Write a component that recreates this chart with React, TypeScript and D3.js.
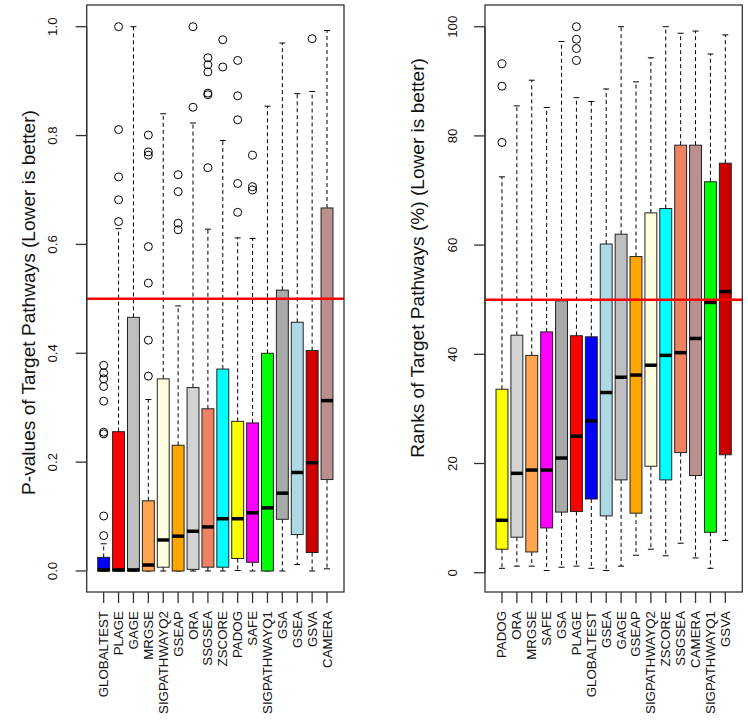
import React from "react";
import * as d3 from "d3";

// ---------- Left panel: P-values ----------
const pvMethods = ["GLOBALTEST","PLAGE","GAGE","MRGSE","SIGPATHWAYQ2","GSEAP","ORA","SSGSEA","ZSCORE","PADOG","SAFE","SIGPATHWAYQ1","GSA","GSEA","GSVA","CAMERA"];
const pvLow = [0,0,0,0,0,0,0,0,0,0.001,0,0,0,0.012,0,0.004];
const pvQ1 = [0,0,0,0,0.007,0,0.003,0.007,0.007,0.023,0.016,0,0.095,0.067,0.034,0.168];
const pvMed = [0.002,0.002,0.002,0.011,0.057,0.064,0.073,0.081,0.096,0.096,0.107,0.116,0.143,0.181,0.199,0.313];
const pvQ3 = [0.025,0.256,0.466,0.129,0.353,0.231,0.337,0.298,0.371,0.275,0.272,0.400,0.516,0.457,0.405,0.667];
const pvHigh = [0.05,0.629,1.0,0.315,0.840,0.487,0.823,0.628,0.791,0.612,0.611,0.854,0.970,0.877,0.881,0.993];
const pvOut = [
  [0.378,0.364,0.353,0.339,0.312,0.255,0.252,0.101,0.065],
  [1.0,0.811,0.724,0.682,0.642],
  [],
  [0.801,0.770,0.764,0.596,0.529,0.424,0.358],
  [],
  [0.728,0.697,0.639,0.627],
  [1.0,0.852],
  [0.943,0.930,0.917,0.878,0.875,0.741],
  [0.976,0.926],
  [0.938,0.873,0.829,0.712,0.659],
  [0.764,0.706,0.700],
  [],
  [],
  [],
  [0.978],
  []
];
const pvTicks = [0, 0.2, 0.4, 0.6, 0.8, 1.0];
const pvTickLabels = ["0.0","0.2","0.4","0.6","0.8","1.0"];

// ---------- Right panel: Ranks ----------
const rkMethods = ["PADOG","ORA","MRGSE","SAFE","GSA","PLAGE","GLOBALTEST","GSEA","GAGE","GSEAP","SIGPATHWAYQ2","ZSCORE","SSGSEA","CAMERA","SIGPATHWAYQ1","GSVA"];
const rkLow = [0.8,1.2,1.2,0.4,1.0,1.2,0.8,0.4,1.2,3.2,4.3,3.1,5.4,2.7,0.8,5.9];
const rkQ1 = [4.3,6.5,3.8,8.2,11.1,11.2,13.5,10.4,17.0,10.9,19.5,17.0,22.0,17.8,7.4,21.6];
const rkMed = [9.6,18.2,18.8,18.8,21.0,25.0,27.8,33.0,35.8,36.2,38.0,39.8,40.3,42.9,49.5,51.5];
const rkQ3 = [33.6,43.5,39.8,44.1,49.8,43.4,43.2,60.2,62.0,57.9,65.9,66.7,78.3,78.3,71.6,75.0];
const rkHigh = [72.5,85.5,90.2,85.2,97.3,87.0,86.3,88.6,100,89.9,94.3,100,98.8,99.2,95.0,98.5];
const rkOut = [
  [93.2,89.1,78.8],[],[],[],[],
  [100,97.7,96.0,93.8],
  [],[],[],[],[],[],[],[],[],[]
];
const rkTicks = [0,20,40,60,80,100];
const rkTickLabels = ["0","20","40","60","80","100"];

const methodColors: Record<string,string> = {
  GLOBALTEST: "#0000FF",
  PLAGE: "#FF0000",
  GAGE: "#BEBEBE",
  MRGSE: "#FFA54F",
  SIGPATHWAYQ2: "#FFFFE0",
  GSEAP: "#FFA500",
  ORA: "#D3D3D3",
  SSGSEA: "#EE8262",
  ZSCORE: "#00FFFF",
  PADOG: "#FFFF00",
  SAFE: "#FF00FF",
  SIGPATHWAYQ1: "#00FF00",
  GSA: "#A9A9A9",
  GSEA: "#ADD8E6",
  GSVA: "#CD0000",
  CAMERA: "#BC8F8F",
};

const FONT = "'Liberation Sans', Arial, Helvetica, sans-serif";

type PanelProps = {
  methods: string[]; low: number[]; q1: number[]; med: number[]; q3: number[]; high: number[]; out: number[][];
  ticks: number[]; tickLabels: string[];
  left: number; right: number; top: number; bottom: number;
  y0: number; y0px: number; y1: number; y1px: number;
  refLine: number; title: string; titleX: number; titleY: number; tickLabelX: number;
};

function Panel(p: PanelProps) {
  const n = p.methods.length;
  const x = d3.scaleLinear().domain([0.5 - 0.04 * n, n + 0.5 + 0.04 * n]).range([p.left, p.right]);
  const y = d3.scaleLinear().domain([p.y0, p.y1]).range([p.y0px, p.y1px]);
  const bw = (x(1) - x(0)) * 0.8;
  const staple = bw * 0.25;
  const tickLen = 11;
  return (
    <g>
      {p.methods.map((m, i) => {
        const cx = x(i + 1);
        return (
          <g key={m}>
            <line x1={cx} x2={cx} y1={y(p.q3[i])} y2={y(p.high[i])} stroke="#000" strokeWidth={1} strokeDasharray="4,3" />
            <line x1={cx} x2={cx} y1={y(p.q1[i])} y2={y(p.low[i])} stroke="#000" strokeWidth={1} strokeDasharray="4,3" />
            <line x1={cx - staple} x2={cx + staple} y1={y(p.high[i])} y2={y(p.high[i])} stroke="#000" strokeWidth={1} />
            <line x1={cx - staple} x2={cx + staple} y1={y(p.low[i])} y2={y(p.low[i])} stroke="#000" strokeWidth={1} />
            <rect x={cx - bw / 2} width={bw} y={y(p.q3[i])} height={Math.max(0, y(p.q1[i]) - y(p.q3[i]))}
              fill={methodColors[m]} stroke="#222" strokeWidth={1} />
            <line x1={cx - bw / 2} x2={cx + bw / 2} y1={y(p.med[i])} y2={y(p.med[i])} stroke="#000" strokeWidth={3.5} />
            {p.out[i].map((v, j) => (
              <circle key={j} cx={cx} cy={y(v)} r={4} fill="none" stroke="#000" strokeWidth={1} />
            ))}
          </g>
        );
      })}
      <line x1={p.left} x2={p.right} y1={y(p.refLine)} y2={y(p.refLine)} stroke="#FF0000" strokeWidth={2.5} />
      <rect x={p.left} y={p.top} width={p.right - p.left} height={p.bottom - p.top} fill="none" stroke="#333" strokeWidth={1.3} />
      <line x1={p.left} x2={p.left} y1={y(p.ticks[0])} y2={y(p.ticks[p.ticks.length - 1])} stroke="#333" strokeWidth={1.3} />
      {p.ticks.map((t, i) => (
        <g key={t}>
          <line x1={p.left - tickLen} x2={p.left} y1={y(t)} y2={y(t)} stroke="#333" strokeWidth={1.3} />
          <text transform={`translate(${p.tickLabelX},${y(t)}) rotate(-90)`} textAnchor="middle" dominantBaseline="central"
            fontFamily={FONT} fontSize={13.3} fill="#111">{p.tickLabels[i]}</text>
        </g>
      ))}
      {p.methods.map((m, i) => (
        <g key={m}>
          <line x1={x(i + 1)} x2={x(i + 1)} y1={p.bottom} y2={p.bottom + tickLen} stroke="#333" strokeWidth={1.3} />
          <text transform={`translate(${x(i + 1)},${p.bottom + 19}) rotate(-90)`} textAnchor="end" dominantBaseline="central"
            fontFamily={FONT} fontSize={13.3} fill="#111">{m}</text>
        </g>
      ))}
      <text transform={`translate(${p.titleX},${p.titleY}) rotate(-90)`} textAnchor="middle" dominantBaseline="central"
        fontFamily={FONT} fontSize={19.1} fill="#111">{p.title}</text>
    </g>
  );
}

export default function App() {
  return (
    <svg width={748} height={724} style={{ position: "absolute", left: 0, top: 0, background: "#fff" }}>
      <rect x={0} y={0} width={748} height={724} fill="#fff" />
      <Panel methods={pvMethods} low={pvLow} q1={pvQ1} med={pvMed} q3={pvQ3} high={pvHigh} out={pvOut}
        ticks={pvTicks} tickLabels={pvTickLabels}
        left={86.7} right={344} top={5} bottom={592}
        y0={0} y0px={571} y1={1} y1px={26.7}
        refLine={0.5} title="P-values of Target Pathways (Lower is better)" titleX={28} titleY={302.5} tickLabelX={52} />
      <Panel methods={rkMethods} low={rkLow} q1={rkQ1} med={rkMed} q3={rkQ3} high={rkHigh} out={rkOut}
        ticks={rkTicks} tickLabels={rkTickLabels}
        left={485} right={742.3} top={5} bottom={592}
        y0={0} y0px={572.7} y1={100} y1px={26.7}
        refLine={50} title="Ranks of Target Pathways (%) (Lower is better)" titleX={417.5} titleY={258} tickLabelX={452} />
    </svg>
  );
}
